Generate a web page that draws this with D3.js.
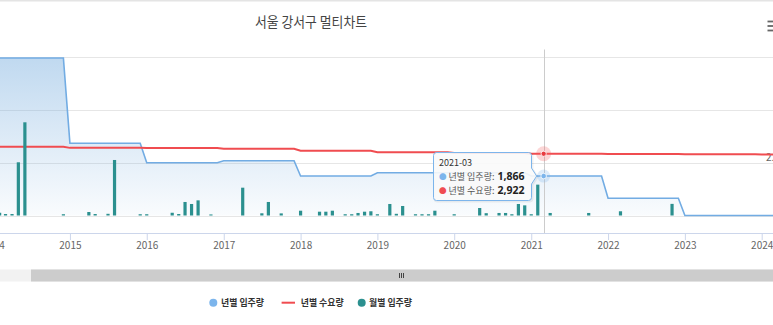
<!DOCTYPE html>
<html><head><meta charset="utf-8">
<script src="https://cdn.jsdelivr.net/npm/d3@7"></script>
<style>
html,body{margin:0;padding:0;background:#fff;overflow:hidden}
svg{display:block;font-family:"Noto Sans CJK KR","Noto Sans",sans-serif}
</style>
</head><body>
<svg id="c" width="773" height="325"></svg>
<script>
// ---------------- data ----------------
const chartTitle = "서울 강서구 멀티차트";
const seriesNames = ["년별 입주량", "년별 수요량", "월별 입주량"];
const years = [2014, 2015, 2016, 2017, 2018, 2019, 2020, 2021, 2022, 2023, 2024];
const yearlySupply = [7450, 3417, 2499, 2593, 1869, 2026, 2026, 1866, 814, 0, 0];
const yearlyDemand = [3256, 3200, 3190, 3161, 3067, 2990, 2960, 2922, 2905, 2895, 2888];
const monthlyMonths = [
  "2014-02","2014-03","2014-04","2014-05","2014-06","2014-12",
  "2015-04","2015-05","2015-07","2015-08","2015-12",
  "2016-01","2016-05","2016-06","2016-07","2016-08","2016-09","2016-11",
  "2017-04","2017-07","2017-08","2017-10",
  "2018-01","2018-04","2018-05","2018-06","2018-08","2018-09","2018-10","2018-11","2018-12",
  "2019-01","2019-03","2019-04","2019-05","2019-07","2019-08","2019-09","2019-10",
  "2020-01","2020-05","2020-06","2020-08","2020-09","2020-10","2020-11","2020-12",
  "2021-01","2021-02","2021-04","2021-10",
  "2022-03","2022-11"
];
const monthlyValues = [
  130, 70, 70, 2518, 4410, 60,
  165, 70, 80, 2627, 60,
  60, 130, 70, 640, 545, 717, 50,
  1316, 105, 640, 100,
  227, 180, 180, 227, 60, 60, 120, 180, 200,
  60, 545, 80, 450, 60, 60, 60, 227,
  60, 355, 110, 120, 120, 60, 545, 480,
  60, 1460, 120, 120,
  200, 550
];
const yTicks = [0, 2500, 5000, 7500];
const tooltipMonth = "2021-03";

// ---------------- setup ----------------
const W = 773, H = 325;
const svg = d3.select("#c");
const parseMonth = s => { const [yy, mm] = s.split("-").map(Number); return new Date(Date.UTC(yy, mm - 1, 1)); };

const x = d3.scaleUtc()
  .domain([new Date(Date.UTC(2014, 0, 1)), new Date(Date.UTC(2024, 0, 1))])
  .range([-6.9, 761.7]);
const y = d3.scaleLinear().domain([0, 7500]).range([215.5, 57]);

const plotTop = 49.5, axisY = 233;

// yearly values shown at every month of their year
const expand = vals => years.flatMap((yy, i) => d3.range(12).map(m => ({date: new Date(Date.UTC(yy, m, 1)), v: vals[i]})));
const supplyPts = expand(yearlySupply);
const demandPts = expand(yearlyDemand);
const bars = monthlyMonths.map((m, i) => ({date: parseMonth(m), v: monthlyValues[i]}));

// top border
svg.append("rect").attr("x", 0).attr("y", 0).attr("width", W).attr("height", 1.5).attr("fill", "#e4e4e4");

// title
svg.append("text").attr("x", 311).attr("y", 26.5).attr("text-anchor", "middle")
  .attr("font-size", 13.5).attr("fill", "#444")
  .attr("textLength", 112).attr("lengthAdjust", "spacingAndGlyphs")
  .text(chartTitle);

// menu icon
svg.append("g").selectAll("line").data([21.5, 26, 30.5]).join("line")
  .attr("x1", 767.5).attr("x2", 780).attr("y1", d => d).attr("y2", d => d)
  .attr("stroke", "#666").attr("stroke-width", 1.8);

// grid
svg.append("g").selectAll("line").data(yTicks).join("line")
  .attr("x1", 0).attr("x2", W).attr("y1", d => Math.round(y(d)) + 0.5).attr("y2", d => Math.round(y(d)) + 0.5)
  .attr("stroke", "#e6e6e6").attr("stroke-width", 1);

// right axis label (clipped by the frame, as in the reference)
svg.append("text").attr("x", 766).attr("y", 160.5).attr("font-size", 10).attr("fill", "#666")
  .text(d3.format(".2~s")(yTicks[1]));

// gradient
const defs = svg.append("defs");
const grad = defs.append("linearGradient").attr("id", "ga").attr("gradientUnits", "userSpaceOnUse")
  .attr("x1", 0).attr("y1", y(7500)).attr("x2", 0).attr("y2", y(0));
grad.append("stop").attr("offset", 0).attr("stop-color", "rgb(111,168,220)").attr("stop-opacity", 0.44);
grad.append("stop").attr("offset", 1).attr("stop-color", "rgb(111,168,220)").attr("stop-opacity", 0.04);

// area series
svg.append("path").datum(supplyPts)
  .attr("d", d3.area().x(d => x(d.date)).y0(y(0)).y1(d => y(d.v)))
  .attr("fill", "url(#ga)");
svg.append("path").datum(supplyPts)
  .attr("d", d3.line().x(d => x(d.date)).y(d => y(d.v)))
  .attr("fill", "none").attr("stroke", "#72ace3").attr("stroke-width", 1.6);

// demand line
svg.append("path").datum(demandPts)
  .attr("d", d3.line().x(d => x(d.date)).y(d => y(d.v)))
  .attr("fill", "none").attr("stroke", "#f04c50").attr("stroke-width", 2);

// monthly bars
const bw = 3.2;
svg.append("g").selectAll("rect").data(bars).join("rect")
  .attr("x", d => x(d.date) - bw / 2).attr("width", bw)
  .attr("y", d => y(d.v)).attr("height", d => y(0) - y(d.v))
  .attr("fill", "#2b908f");

// x axis
const xAxis = d3.axisBottom(x).ticks(d3.utcYear.every(1)).tickFormat(d3.utcFormat("%Y"))
  .tickSize(7).tickPadding(2);
const gx = svg.append("g").attr("transform", `translate(0,${axisY})`).call(xAxis);
gx.select(".domain").attr("stroke", "#ccd6eb").attr("d", `M0,0.5H${W}`);
gx.selectAll(".tick line").attr("stroke", "#ccd6eb");
gx.selectAll(".tick text").attr("fill", "#666").attr("font-size", 10)
  .attr("font-family", "'Noto Sans CJK KR','Noto Sans',sans-serif");

// crosshair + hover markers
const tDate = parseMonth(tooltipMonth);
const tIdx = years.indexOf(tDate.getUTCFullYear());
const cx = x(tDate);
svg.append("line").attr("x1", Math.round(cx) + 0.5).attr("x2", Math.round(cx) + 0.5)
  .attr("y1", plotTop).attr("y2", axisY).attr("stroke", "#cccccc").attr("stroke-width", 1);

const supV = yearlySupply[tIdx], demV = yearlyDemand[tIdx];
svg.append("circle").attr("cx", cx).attr("cy", y(demV)).attr("r", 7.5).attr("fill", "rgba(244,91,91,0.25)");
svg.append("circle").attr("cx", cx).attr("cy", y(demV)).attr("r", 2.6).attr("fill", "#e83c40").attr("stroke", "#fff").attr("stroke-width", 0.8);
svg.append("circle").attr("cx", cx).attr("cy", y(supV)).attr("r", 6.5).attr("fill", "rgba(124,181,236,0.25)");
svg.append("circle").attr("cx", cx).attr("cy", y(supV)).attr("r", 2.8).attr("fill", "#7cb5ec").attr("stroke", "#fff").attr("stroke-width", 0.8);

// tooltip
const bx0 = 433.5, bx1 = 531.5, by0 = 152.5, by1 = 200.5, r = 3;
const tipX = cx - 7, tipY = y(supV);
const tp = `M${bx0 + r},${by0} H${bx1 - r} Q${bx1},${by0} ${bx1},${by0 + r} V${tipY - 8} L${tipX},${tipY} L${bx1},${tipY + 8} V${by1 - r} Q${bx1},${by1} ${bx1 - r},${by1} H${bx0 + r} Q${bx0},${by1} ${bx0},${by1 - r} V${by0 + r} Q${bx0},${by0} ${bx0 + r},${by0} Z`;
svg.append("path").attr("d", tp).attr("transform", "translate(1,1)").attr("fill", "none")
  .attr("stroke", "rgba(0,0,0,0.06)").attr("stroke-width", 2);
svg.append("path").attr("d", tp).attr("fill", "rgba(250,250,250,0.9)").attr("stroke", "#7cb5ec").attr("stroke-width", 1);

const tt = svg.append("g").attr("font-size", 9);
tt.append("text").attr("x", 439).attr("y", 166).attr("fill", "#333").text(tooltipMonth);
const rows = [
  {name: seriesNames[0], v: supV, c: "#7cb5ec", yb: 179.5},
  {name: seriesNames[1], v: demV, c: "#f04c50", yb: 194}
];
rows.forEach(rw => {
  const t = tt.append("text").attr("x", 439).attr("y", rw.yb);
  t.append("tspan").attr("fill", rw.c).attr("font-size", 7.5).text("●");
  t.append("tspan").attr("fill", "#555").attr("dx", 2).text(rw.name + ":");
  t.append("tspan").attr("fill", "#222").attr("font-weight", "bold").attr("font-size", 10.5)
    .attr("font-family", "'Noto Sans','Liberation Sans',sans-serif").attr("dx", 3).text(d3.format(",")(rw.v));
});

// scrollbar
svg.append("rect").attr("x", 0).attr("y", 269.5).attr("width", W).attr("height", 12).attr("fill", "#f2f2f2");
svg.append("rect").attr("x", 31).attr("y", 269.5).attr("width", W - 31).attr("height", 12).attr("fill", "#cccccc");
svg.append("g").selectAll("line").data([-2, 0, 2]).join("line")
  .attr("x1", d => 401.5 + d).attr("x2", d => 401.5 + d).attr("y1", 273).attr("y2", 278)
  .attr("stroke", "#333").attr("stroke-width", 0.9);

// legend
const legend = [
  {name: seriesNames[0], type: "circle", c: "#7cb5ec", sx: 213.3, tx: 221},
  {name: seriesNames[1], type: "line", c: "#f04c50", sx: 288.3, tx: 300.7},
  {name: seriesNames[2], type: "circle", c: "#2b908f", sx: 361.7, tx: 369}
];
const lg = svg.append("g");
legend.forEach(it => {
  if (it.type === "circle") {
    lg.append("circle").attr("cx", it.sx).attr("cy", 302.7).attr("r", 4).attr("fill", it.c);
  } else {
    lg.append("line").attr("x1", it.sx - 6.7).attr("x2", it.sx + 6.7).attr("y1", 302.7).attr("y2", 302.7)
      .attr("stroke", it.c).attr("stroke-width", 2);
  }
  lg.append("text").attr("x", it.tx).attr("y", 306.3).attr("font-size", 9.5).attr("font-weight", "bold")
    .attr("fill", "#333").attr("textLength", 43).attr("lengthAdjust", "spacingAndGlyphs").text(it.name);
});
</script>
</body></html>
